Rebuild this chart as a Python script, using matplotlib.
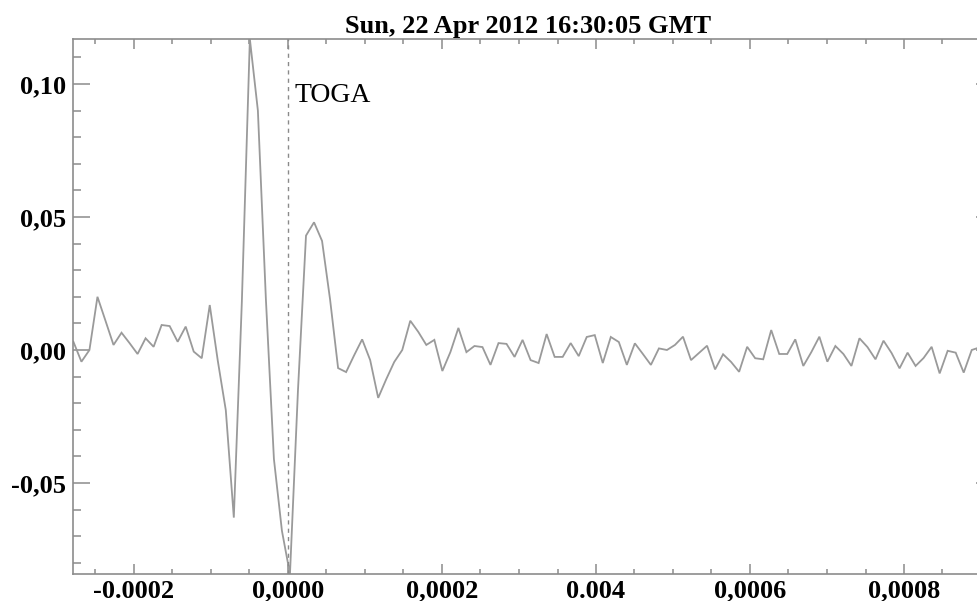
import numpy as np
import matplotlib
matplotlib.use("Agg")
import matplotlib.pyplot as plt
from matplotlib.ticker import FixedLocator, FixedFormatter, MultipleLocator

# ---- data -------------------------------------------------------------
title = "Sun, 22 Apr 2012 16:30:05 GMT"
marker_label = "TOGA"
marker_time = 0.0
sample_rate = 96000.0          # Hz
first_sample_time = -2.787e-4  # s (time of first sample)
signal = [
    0.0031, -0.0044, 0.0000, 0.0200, 0.0110, 0.0019, 0.0065, 0.0026, -0.0015,
    0.0044, 0.0012, 0.0094, 0.0090, 0.0031, 0.0088, -0.0006, -0.0031, 0.0169,
    -0.0040, -0.0226, -0.0630, 0.0180, 0.1169, 0.0900, 0.0190, -0.0410,
    -0.0680, -0.0842, -0.0150, 0.0430, 0.0480, 0.0410, 0.0190, -0.0068,
    -0.0083, -0.0020, 0.0040, -0.0038, -0.0180, -0.0110, -0.0045, 0.0000,
    0.0110, 0.0068, 0.0019, 0.0038, -0.0079, -0.0008, 0.0083, -0.0008,
    0.0015, 0.0011, -0.0056, 0.0026, 0.0023, -0.0026, 0.0038, -0.0038,
    -0.0049, 0.0060, -0.0026, -0.0026, 0.0026, -0.0023, 0.0049, 0.0056,
    -0.0049, 0.0049, 0.0030, -0.0056, 0.0025, -0.0015, -0.0056, 0.0006,
    0.0000, 0.0019, 0.0050, -0.0038, -0.0011, 0.0016, -0.0073, -0.0016,
    -0.0045, -0.0082, 0.0012, -0.0031, -0.0035, 0.0075, -0.0015, -0.0015,
    0.0040, -0.0060, -0.0008, 0.0050, -0.0044, 0.0015, -0.0015, -0.0060,
    0.0044, 0.0011, -0.0035, 0.0035, -0.0011, -0.0069, -0.0010, -0.0060,
    -0.0030, 0.0012, -0.0088, -0.0003, -0.0010, -0.0085, 0.0000, 0.0010,
]
x_ticks = [-0.0002, 0.0, 0.0002, 0.0004, 0.0006, 0.0008]
x_tick_labels = ["-0.0002", "0,0000", "0,0002", "0.004", "0,0006", "0,0008"]
y_ticks = [-0.05, 0.0, 0.05, 0.10]
y_tick_labels = ["-0,05", "0,00", "0,05", "0,10"]

# ---- figure -----------------------------------------------------------
W, H = 978, 601
fig = plt.figure(figsize=(W / 100, H / 100), dpi=100)
L, R, T, B = 73, 993, 39, 574
ax = fig.add_axes([L / W, (H - B) / H, (R - L) / W, (B - T) / H])

t = first_sample_time + np.arange(len(signal)) / sample_rate
ax.plot(t, signal, color="#9a9a9a", lw=1.3, solid_joinstyle="miter")
ax.axvline(marker_time, color="#8a8a8a", lw=1.0, ls=(0, (3, 3)))
ax.text(9.0e-6, 0.0933, marker_label, fontsize=20,
        family="Liberation Serif", color="black", va="baseline", ha="left")

ax.set_xlim((L - 288) / 154 * 0.0002, (R - 288) / 154 * 0.0002)
ax.set_ylim(-0.0842, 0.1169)

ax.xaxis.set_major_locator(FixedLocator(x_ticks))
ax.xaxis.set_major_formatter(FixedFormatter(x_tick_labels))
ax.xaxis.set_minor_locator(MultipleLocator(0.00005))
ax.yaxis.set_major_locator(FixedLocator(y_ticks))
ax.yaxis.set_major_formatter(FixedFormatter(y_tick_labels))
ax.yaxis.set_minor_locator(MultipleLocator(0.01))

spine_c = "#8c8c8c"
for s in ax.spines.values():
    s.set_color(spine_c)
    s.set_linewidth(1.2)

ax.tick_params(axis="both", which="both", direction="in", top=True,
               right=True, color=spine_c, width=1.1)
ax.tick_params(axis="x", which="major", length=7.5, pad=4)
ax.tick_params(axis="x", which="minor", length=3.6)
ax.tick_params(axis="y", which="major", length=12.5, pad=5)
ax.tick_params(axis="y", which="minor", length=5.8)

for lab in ax.get_xticklabels() + ax.get_yticklabels():
    lab.set_fontfamily("Liberation Serif")
    lab.set_fontweight("bold")
    lab.set_fontsize(19)

fig.text(528 / W, (H - 33) / H, title, ha="center", va="baseline",
         fontsize=19, fontweight="bold", family="Liberation Serif")

fig.savefig("out.png", dpi=100)
